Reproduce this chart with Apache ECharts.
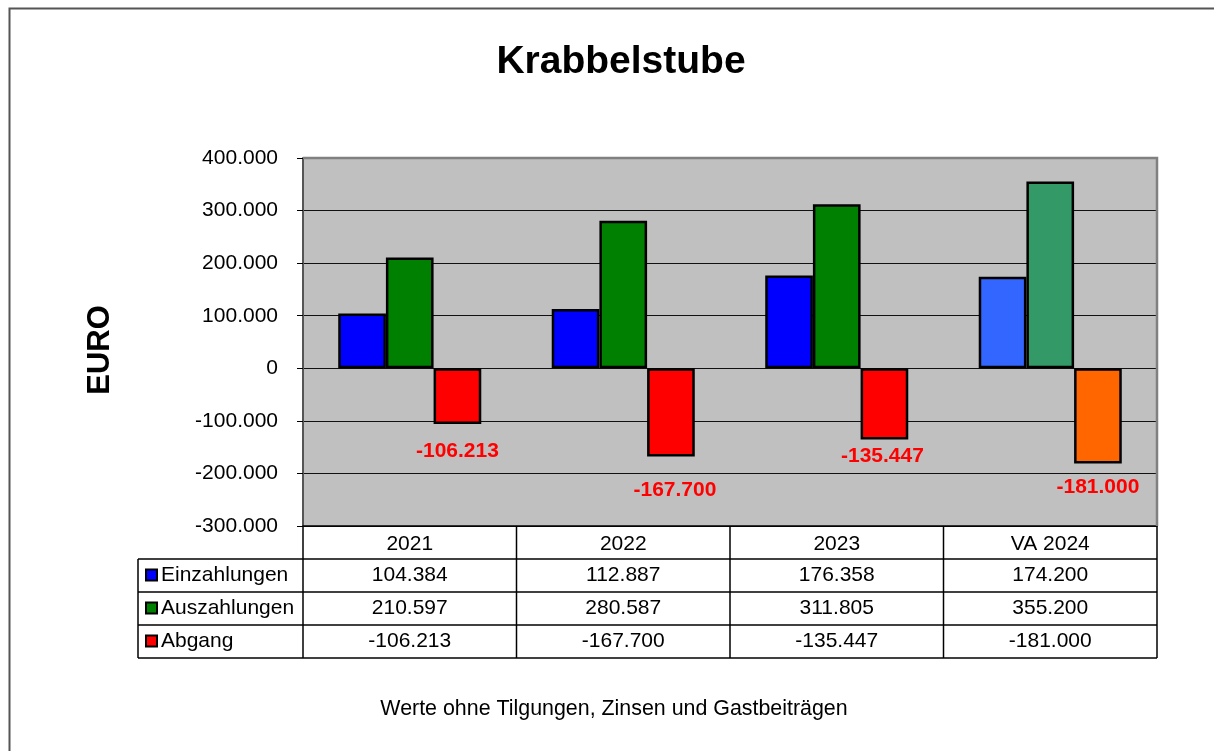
<!DOCTYPE html>
<html>
<head>
<meta charset="utf-8">
<script src="https://cdn.jsdelivr.net/npm/echarts@6/dist/echarts.min.js"></script>
<style>
html,body{margin:0;padding:0;background:#fff;}
#chart{width:1214px;height:751px;}
</style>
</head>
<body>
<div id="chart"></div>
<script>
// ---- data ----
var categories = ['2021', '2022', '2023', 'VA 2024'];
var seriesNames = ['Einzahlungen', 'Auszahlungen', 'Abgang'];
var einzahlungen = [104384, 112887, 176358, 174200];
var auszahlungen = [210597, 280587, 311805, 355200];
var abgang = [-106213, -167700, -135447, -181000];
var yTicks = {min: -300000, max: 400000, interval: 100000};
var titleText = 'Krabbelstube';
var yName = 'EURO';
var footnote = 'Werte ohne Tilgungen, Zinsen und Gastbeiträgen';

// ---- style ----
var FONT = '"Liberation Sans", Arial, sans-serif';
var baseColors = ['#0000ff', '#008000', '#ff0000'];
var lastColors = ['#3366ff', '#339966', '#ff6600'];
var labelDist = [17, 23, 6, 13];
var labelOffX = [0, 4, -2, 0];
var G = {left: 303, top: 158, width: 854, height: 368};
var TABLE_LEFT = 138, ROW_H = 33;

function fmt(v) {
  var s = Math.abs(Math.round(v)).toString().replace(/\B(?=(\d{3})+(?!\d))/g, '.');
  return (v < 0 ? '-' : '') + s;
}

var allSeries = [einzahlungen, auszahlungen, abgang];

function buildData(vals, si) {
  return vals.map(function (v, i) {
    var item = {value: v};
    if (i === vals.length - 1) item.itemStyle = {color: lastColors[si]};
    if (si === 2) {
      item.label = {distance: labelDist[i], offset: [labelOffX[i], 0]};
    }
    return item;
  });
}

var series = allSeries.map(function (vals, si) {
  var s = {
    name: seriesNames[si],
    type: 'bar',
    barGap: '0%',
    barCategoryGap: '33%',
    itemStyle: {color: baseColors[si], borderColor: '#000', borderWidth: 2.5},
    data: buildData(vals, si),
    emphasis: {disabled: true}
  };
  if (si === 2) {
    s.label = {
      show: true, position: 'outside', color: '#ff0000', fontWeight: 'bold',
      fontSize: 21, fontFamily: FONT,
      formatter: function (p) { return fmt(p.value); }
    };
  }
  return s;
});

// ---- table graphics ----
var graphics = [];
var colW = G.width / categories.length;
var tTop = G.top + G.height;
var right = G.left + G.width;
var nRows = seriesNames.length;
var tBottom = tTop + ROW_H * (nRows + 1);
var lineStyle = {stroke: '#000', lineWidth: 1.5};
// outer frame
graphics.push({type: 'rect', shape: {x: 9.5, y: 8.5, width: 1400, height: 900},
  style: {fill: 'none', stroke: '#555', lineWidth: 2}, z: 0, silent: true});
// plot border (top/right gray)
graphics.push({type: 'polyline', shape: {points: [[G.left, G.top], [right, G.top], [right, tTop]]},
  style: {fill: 'none', stroke: '#808080', lineWidth: 2.5}, z: 5, silent: true});
// title
graphics.push({type: 'text', x: 621, y: 62, z: 10, silent: true,
  style: {text: titleText, fill: '#000', font: 'bold 39px ' + FONT, align: 'center', verticalAlign: 'middle'}});
// y-axis title
graphics.push({type: 'text', x: 100, y: 350, rotation: Math.PI / 2, z: 10, silent: true,
  style: {text: yName, fill: '#000', font: 'bold 31px ' + FONT, align: 'center', verticalAlign: 'middle'}});
// horizontal lines
for (var r = 1; r <= nRows + 1; r++) {
  var y = tTop + r * ROW_H;
  graphics.push({type: 'line', shape: {x1: TABLE_LEFT, y1: y, x2: right, y2: y}, style: lineStyle, z: 10, silent: true});
}
// vertical lines
graphics.push({type: 'line', shape: {x1: TABLE_LEFT, y1: tTop + ROW_H, x2: TABLE_LEFT, y2: tBottom}, style: lineStyle, z: 10, silent: true});
for (var c = 0; c <= categories.length; c++) {
  var x = G.left + c * colW;
  graphics.push({type: 'line', shape: {x1: x, y1: tTop, x2: x, y2: tBottom}, style: lineStyle, z: 10, silent: true});
}
// row headers and values
for (var si = 0; si < nRows; si++) {
  var cy = tTop + ROW_H * (si + 1) + ROW_H / 2;
  graphics.push({type: 'rect', shape: {x: TABLE_LEFT + 8, y: cy - 6, width: 11, height: 11},
    style: {fill: baseColors[si], stroke: '#000', lineWidth: 2}, z: 10, silent: true});
  graphics.push({type: 'text', x: TABLE_LEFT + 23, y: cy, z: 10, silent: true,
    style: {text: seriesNames[si], fill: '#000', font: '21px ' + FONT, verticalAlign: 'middle', align: 'left'}});
  for (var ci = 0; ci < categories.length; ci++) {
    graphics.push({type: 'text', x: G.left + colW * (ci + 0.5), y: cy, z: 10, silent: true,
      style: {text: fmt(allSeries[si][ci]), fill: '#000', font: '21px ' + FONT, verticalAlign: 'middle', align: 'center'}});
  }
}
// footnote
graphics.push({type: 'text', x: 614, y: 709, z: 10, silent: true,
  style: {text: footnote, fill: '#000', font: '21.4px ' + FONT, verticalAlign: 'middle', align: 'center'}});

var chart = echarts.init(document.getElementById('chart'), null, {renderer: 'canvas'});
chart.setOption({
  animation: false,
  backgroundColor: '#fff',
  grid: {
    left: G.left, top: G.top, width: G.width, height: G.height,
    show: true, backgroundColor: '#c0c0c0', borderWidth: 0
  },
  xAxis: {
    type: 'category', data: categories,
    axisLine: {onZero: false, lineStyle: {color: '#000', width: 1.5}},
    axisTick: {show: false},
    axisLabel: {margin: 8, fontSize: 21, fontFamily: FONT, color: '#000'}
  },
  yAxis: {
    type: 'value', min: yTicks.min, max: yTicks.max, interval: yTicks.interval,
    axisLine: {show: true, lineStyle: {color: '#555', width: 2}},
    axisTick: {show: true, length: 6, lineStyle: {color: '#000'}},
    axisLabel: {margin: 25, fontSize: 21, fontFamily: FONT, color: '#000', formatter: fmt},
    splitLine: {show: true, lineStyle: {color: '#111', width: 1}}
  },
  series: series,
  graphic: graphics
});
</script>
</body>
</html>
